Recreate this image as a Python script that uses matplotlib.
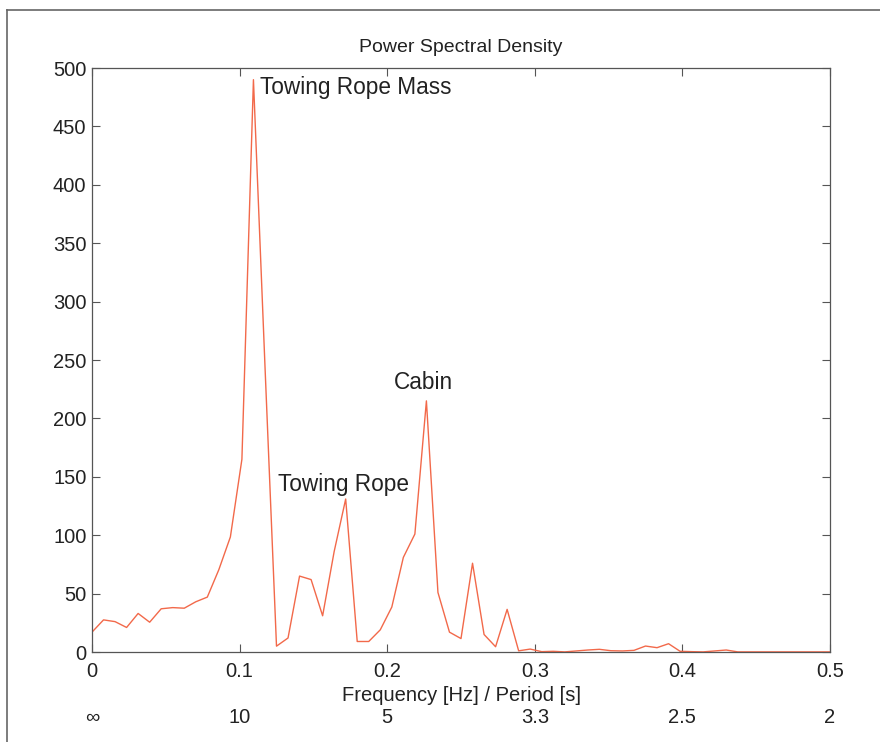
import numpy as np
import matplotlib
matplotlib.use("Agg")
import matplotlib.pyplot as plt
from matplotlib.lines import Line2D

# Frequency bins (k/128 Hz) and PSD values
freq = [k / 128 for k in range(65)]
psd = [17, 27.5, 26, 21, 33, 25.5, 37, 38, 37.5, 43, 47, 70.5, 98.5, 165,
       490, 245, 5, 12, 65, 62, 31, 86, 131, 9, 9, 19,
       38.5, 81, 101, 215, 51, 17, 11.5, 76, 15, 4.5, 36.5, 1, 2.5, 0.3,
       0.6, 0.1, 0.9, 1.7, 2.3, 1.1, 0.9, 1.4, 5.1, 3.7, 7.1, 0.6, 0.3, 0.1,
       0.9, 1.7, 0.1, 0.1, 0.1, 0.1, 0.1, 0.1, 0.1, 0.1, 0.1]

xticks = [0, 0.1, 0.2, 0.3, 0.4, 0.5]
xticklabels = ["0", "0.1", "0.2", "0.3", "0.4", "0.5"]
period_labels = ["\u221e", "10", "5", "3.3", "2.5", "2"]
yticks = [0, 50, 100, 150, 200, 250, 300, 350, 400, 450, 500]

annotations = [("Towing Rope Mass", 0.1138, 483),
               ("Towing Rope", 0.126, 143.5),
               ("Cabin", 0.2046, 231)]

plt.rcParams['font.family'] = ['Liberation Sans', 'DejaVu Sans']
text_color = '#222222'
axis_color = '#555555'
line_color = '#f2694a'

fig = plt.figure(figsize=(8.8, 7.42), dpi=100)
ax = fig.add_axes([92 / 880, 90 / 742, (830 - 92) / 880, (652 - 68) / 742])

ax.plot(freq, psd, color=line_color, lw=1.0)

ax.set_xlim(0, 0.5)
ax.set_ylim(0, 500)
ax.set_xticks(xticks)
ax.set_xticklabels(xticklabels)
ax.set_yticks(yticks)
ax.tick_params(direction='in', length=6, width=0.8, colors=axis_color,
               labelcolor=text_color, labelsize=14.5, top=True, right=True, pad=4)
ax.tick_params(axis='x', pad=7)
for sp in ax.spines.values():
    sp.set_color(axis_color)
    sp.set_linewidth(0.9)

ax.set_xlabel("Frequency [Hz] / Period [s]", fontsize=14.5, color=text_color, labelpad=4)
fig.text(0.5 * (92 + 830) / 880, (742 - 47) / 742, "Power Spectral Density",
         ha='center', va='center', fontsize=14, color=text_color)

for x, lab in zip(xticks, period_labels):
    ax.text(x, -0.112, lab, transform=ax.get_xaxis_transform(),
            ha='center', va='center', fontsize=14.5, color=text_color)

for txt, x, y in annotations:
    ax.text(x, y, txt, ha='left', va='center', fontsize=16.3, color=text_color)

# outer frame (top and left edges visible in the reference)
fig.add_artist(Line2D([7 / 880, 1.0], [(742 - 10) / 742] * 2, color='#666666', lw=1.2,
                      transform=fig.transFigure))
fig.add_artist(Line2D([7 / 880] * 2, [0, (742 - 10) / 742], color='#666666', lw=1.2,
                      transform=fig.transFigure))

fig.savefig("out.png", dpi=100)
